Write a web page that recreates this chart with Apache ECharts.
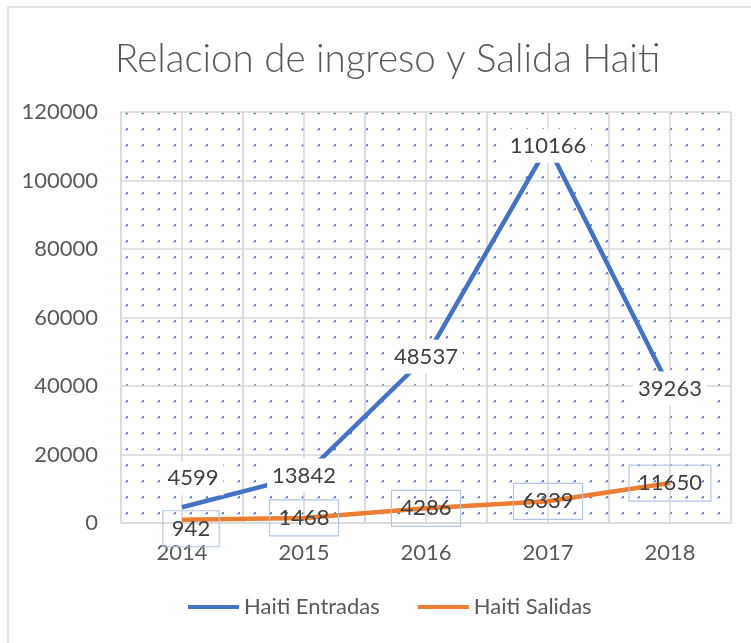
<!DOCTYPE html>
<html>
<head>
<meta charset="utf-8"/>
<title>Relacion de ingreso y Salida Haiti</title>
<script src="https://cdn.jsdelivr.net/npm/echarts@6/dist/echarts.min.js"></script>
<style>
  html, body { margin: 0; padding: 0; background: #fff; }
  #container { width: 751px; height: 643px; }
</style>
</head>
<body>
<div id="container"></div>
<script type="text/javascript">
    // datos
    var years = ['2014', '2015', '2016', '2017', '2018'];
    var entradas = [4599, 13842, 48537, 110166, 39263];
    var salidas = [942, 1468, 4286, 6339, 11650];
    var yTicks = [0, 20000, 40000, 60000, 80000, 100000, 120000];

    var fontName = 'Lato, Carlito, "Open Sans", sans-serif';

    // patron de puntos del area de trazado
    function dotPattern() {
        var c = document.createElement('canvas');
        c.width = 16;
        c.height = 16;
        var ctx = c.getContext('2d');
        ctx.strokeStyle = '#4472C4';
        ctx.lineWidth = 1.6;
        ctx.beginPath();
        ctx.moveTo(13.8, 2.2);
        ctx.lineTo(16, 0.4);
        ctx.stroke();
        return c;
    }

    var myChart = echarts.init(document.getElementById('container'), null, {renderer: 'canvas'});

    var entradasData = entradas.map(function (v, i) {
        var item = {value: v};
        if (i == 0) {
            item.label = {offset: [11, -29]};
        }
        return item;
    });
    var salidasData = salidas.map(function (v, i) {
        var item = {value: v};
        if (i == 0) {
            item.label = {offset: [9, 9]};
        }
        return item;
    });

    var option = {
        animation: false,
        backgroundColor: '#fff',
        title: {
            text: 'Relacion de ingreso y Salida Haiti',
            left: 110,
            top: 35,
            textStyle: {
                fontFamily: fontName,
                fontSize: 38.5,
                fontWeight: 300,
                color: '#595959'
            }
        },
        graphic: [{
            type: 'rect',
            shape: {x: 8, y: 7, width: 800, height: 700},
            style: {fill: 'none', stroke: '#D9D9D9', lineWidth: 1.5},
            silent: true,
            z: -10
        }],
        legend: {
            bottom: 20,
            left: 183,
            itemWidth: 51,
            itemHeight: 4,
            itemGap: 38,
            icon: 'rect',
            textStyle: {fontFamily: fontName, fontSize: 22, color: '#595959'},
            data: ['Haiti Entradas', 'Haiti Salidas']
        },
        grid: {
            left: 121,
            right: 20,
            top: 112,
            bottom: 120,
            show: true,
            borderWidth: 0,
            backgroundColor: {image: dotPattern(), repeat: 'repeat'}
        },
        xAxis: [{
            type: 'category',
            data: years,
            boundaryGap: true,
            axisLine: {lineStyle: {color: '#D9D9D9', width: 1.5}},
            axisTick: {show: false},
            axisLabel: {fontFamily: fontName, fontSize: 22, color: '#595959', margin: 19},
            splitLine: {show: true, lineStyle: {color: '#D9D9D9', width: 1.5}}
        }, {
            // lineas intermedias de la cuadricula
            type: 'value',
            min: 0,
            max: 10,
            interval: 1,
            show: true,
            position: 'bottom',
            axisLine: {show: false},
            axisTick: {show: false},
            axisLabel: {show: false},
            splitLine: {show: true, lineStyle: {color: '#D9D9D9', width: 1.5}}
        }],
        yAxis: {
            type: 'value',
            min: yTicks[0],
            max: yTicks[yTicks.length - 1],
            interval: 20000,
            axisLine: {show: false},
            axisTick: {show: false},
            axisLabel: {
                fontFamily: fontName, fontSize: 22, color: '#595959', margin: 23,
                formatter: function (v) { return String(v); }
            },
            splitLine: {show: true, lineStyle: {color: '#D9D9D9', width: 1.5}}
        },
        series: [{
            name: 'Haiti Entradas',
            type: 'line',
            data: entradasData,
            showSymbol: true,
            symbol: 'circle',
            symbolSize: 0.1,
            color: '#4472C4',
            lineStyle: {width: 4.5, color: '#4472C4'},
            label: {
                show: true,
                position: 'inside',
                fontFamily: fontName,
                fontSize: 22,
                color: '#404040',
                backgroundColor: '#fff',
                padding: [6, 5]
            },
            z: 3
        }, {
            name: 'Haiti Salidas',
            type: 'line',
            data: salidasData,
            showSymbol: true,
            symbol: 'circle',
            symbolSize: 0.1,
            color: '#ED7D31',
            lineStyle: {width: 4.5, color: '#ED7D31'},
            label: {
                show: true,
                position: 'inside',
                fontFamily: fontName,
                fontSize: 22,
                color: '#404040',
                borderColor: '#B4C7E7',
                borderWidth: 1.2,
                padding: [8, 9, 6, 9]
            },
            z: 2
        }]
    };

    myChart.setOption(option);
    window.onresize = myChart.resize;
</script>
</body>
</html>
